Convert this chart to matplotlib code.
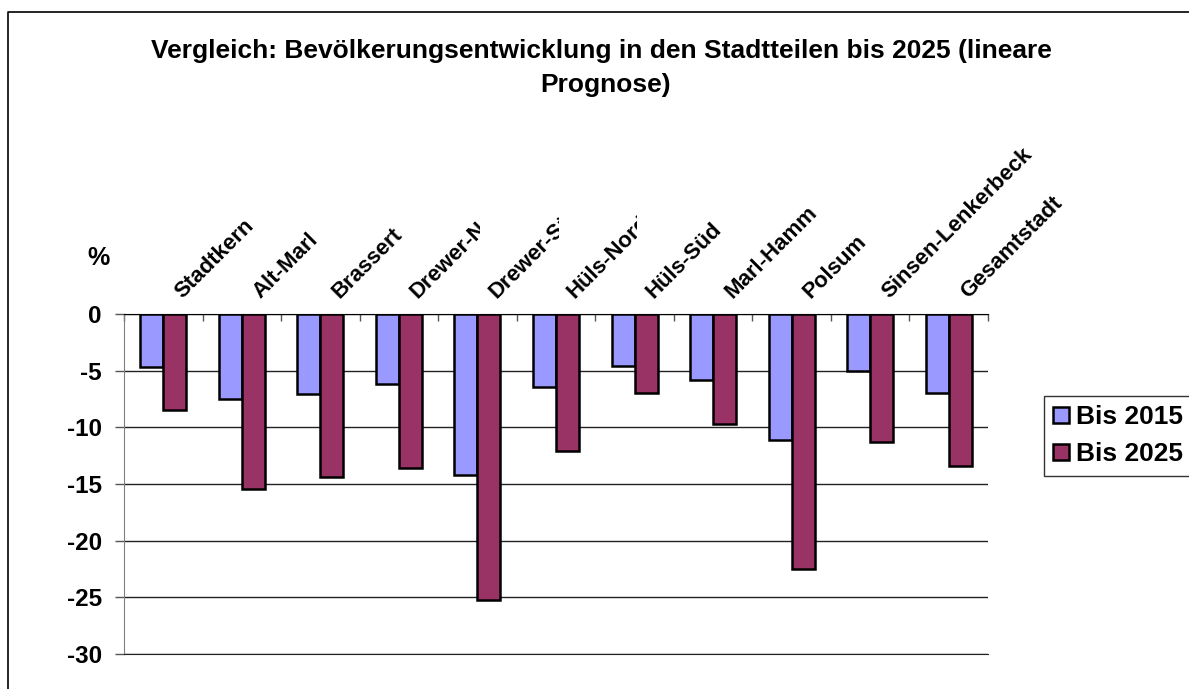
import numpy as np
import matplotlib
matplotlib.use('Agg')
import matplotlib.pyplot as plt
from matplotlib.lines import Line2D
from matplotlib.transforms import offset_copy, Bbox

plt.rcParams['font.family'] = ['Liberation Sans', 'DejaVu Sans']
plt.rcParams['font.weight'] = 'bold'

# data (percent change)
districts = ['Stadtkern', 'Alt-Marl', 'Brassert', 'Drewer-Nord', 'Drewer-Süd', 'Hüls-Nord',
             'Hüls-Süd', 'Marl-Hamm', 'Polsum', 'Sinsen-Lenkerbeck', 'Gesamtstadt']
bis2015 = [-4.7, -7.5, -7.1, -6.2, -14.2, -6.4, -4.6, -5.8, -11.1, -5.0, -7.0]
bis2025 = [-8.5, -15.4, -14.4, -13.6, -25.2, -12.1, -7.0, -9.7, -22.5, -11.3, -13.4]
series_names = ['Bis 2015', 'Bis 2025']
yticks = [0, -5, -10, -15, -20, -25, -30]
# labels that are cut off by the next label in the original
clipped = ['Drewer-Nord', 'Drewer-Süd', 'Hüls-Nord']

c15 = '#9999FF'
c25 = '#993366'
fs = 16     # category labels
fs_tick = 17.5
fs_title = 19
fs_leg = 19

fig = plt.figure(figsize=(11.89, 6.89), dpi=100)
ax = fig.add_axes([124/1189, 1-654/689, (988-124)/1189, (654-314)/689])

x = np.arange(len(districts))
w = 0.293
ax.bar(x - w/2, bis2015, w, color=c15, edgecolor='black', linewidth=1.8, zorder=3, label=series_names[0])
ax.bar(x + w/2, bis2025, w, color=c25, edgecolor='black', linewidth=1.8, zorder=3, label=series_names[1])

ax.set_xlim(-0.5, len(districts) - 0.5)
ax.set_ylim(-30, 0)
ax.set_yticks(yticks)
ax.set_yticklabels([str(v) for v in yticks], fontsize=fs_tick, fontweight='bold')
ax.tick_params(axis='y', length=6.5, width=1, color='#555555', pad=9.5)
ax.yaxis.grid(True, color='#222222', linewidth=1, zorder=0)

ax.xaxis.set_ticks_position('top')
ax.set_xticks(np.arange(-0.5, len(districts), 1.0))
ax.set_xticklabels([])
ax.tick_params(axis='x', direction='in', length=5, width=1, color='#555555')

ax.spines['right'].set_visible(False)
ax.spines['top'].set_color('black')
ax.spines['bottom'].set_color('#222222')
ax.spines['left'].set_color('#808080')

# rotated category labels above the zero line
trans = offset_copy(ax.get_xaxis_transform(), fig=fig, x=19, y=15, units='dots')
labels = []
for i, name in enumerate(districts):
    t = ax.text(i, 1, name, transform=trans, rotation=45, rotation_mode='anchor',
                ha='left', va='baseline', fontsize=fs, fontweight='bold', clip_on=False)
    labels.append(t)

ax.text(-0.5, 1, '%', transform=offset_copy(ax.get_xaxis_transform(), fig=fig, x=-25, y=49, units='dots'),
        ha='center', va='baseline', fontsize=18, fontweight='bold')

fig.text(601/1189, 1-57.7/689, 'Vergleich: Bevölkerungsentwicklung in den Stadtteilen bis 2025 (lineare',
         ha='center', va='baseline', fontsize=fs_title, fontweight='bold')
fig.text(606/1189, 1-91.7/689, 'Prognose)', ha='center', va='baseline', fontsize=fs_title, fontweight='bold')

leg = fig.legend(loc='upper left', bbox_to_anchor=(1044/1189, 1-396/689), fontsize=fs_leg,
                 frameon=True, fancybox=False, edgecolor='black', handlelength=0.58,
                 handleheight=0.58, handletextpad=0.3, borderpad=0.35, labelspacing=0.5,
                 borderaxespad=0)
leg.get_frame().set_linewidth(1)
for h in leg.legend_handles:
    h.set_linewidth(1.8)

# outer chart border (top and left visible)
fig.add_artist(Line2D([8/1189, 8/1189, 1], [0, 1-12/689, 1-12/689], color='black', linewidth=1.2,
                      transform=fig.transFigure))

fig.canvas.draw()
r = fig.canvas.get_renderer()
for i, t in enumerate(labels):
    if districts[i] in clipped and i + 1 < len(labels):
        cur = t.get_window_extent(r)
        nxt = labels[i+1].get_window_extent(r)
        t.set_clip_box(Bbox([[cur.x0 - 10, cur.y0 - 10], [nxt.x0 - 5, cur.y1 + 10]]))
        t.set_clip_on(True)

fig.savefig('out.png', dpi=100)
